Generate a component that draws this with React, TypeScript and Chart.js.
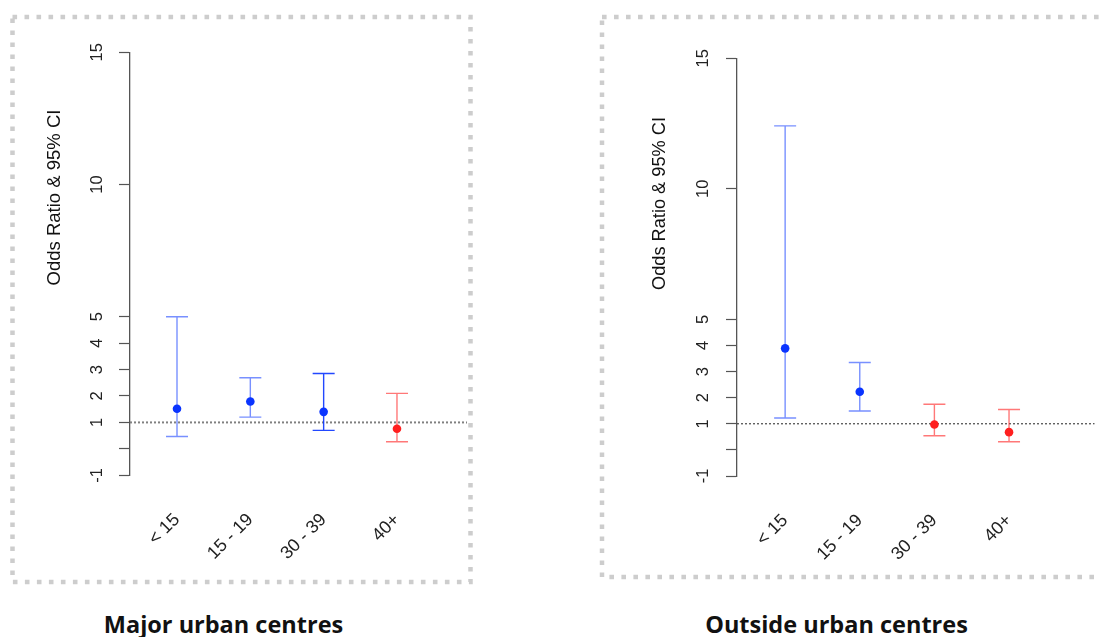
import React, { useEffect, useRef } from "react";
import { Chart, registerables } from "chart.js";

Chart.register(...registerables);

// ---------- data ----------
const categories = ["< 15", "15 - 19", "30 - 39", "40+"];
const yTickValues = [-1, 0, 1, 2, 3, 4, 5, 10, 15];
const hiddenTickLabels = [0];
const referenceOR = 1;

const majorOR = [1.52, 1.79, 1.4, 0.76];
const majorLower = [0.47, 1.2, 0.7, 0.27];
const majorUpper = [5.0, 2.69, 2.85, 2.1];

const outsideOR = [3.89, 2.23, 0.97, 0.68];
const outsideLower = [1.22, 1.49, 0.54, 0.31];
const outsideUpper = [12.41, 3.35, 1.75, 1.55];

// ---------- styles ----------
const BLUE = "#0a34ff";
const BLUE_LIGHT = "rgba(10,52,255,0.55)";
const RED = "#ff1f1f";
const RED_LIGHT = "rgba(255,30,30,0.6)";

const majorWhiskerColors = [BLUE_LIGHT, BLUE_LIGHT, "rgba(10,52,255,0.9)", RED_LIGHT];
const majorPointColors = [BLUE, BLUE, BLUE, RED];
const outsideWhiskerColors = [BLUE_LIGHT, BLUE_LIGHT, RED_LIGHT, RED_LIGHT];
const outsidePointColors = [BLUE, BLUE, RED, RED];

type PanelCfg = {
  title: string;
  est: number[];
  lo: number[];
  hi: number[];
  whiskerColors: string[];
  pointColors: string[];
  left: number;
  width: number;
  height: number;
  plotLeft: number;
  plotRight: number;
  plotTop: number;
  plotBottom: number;
  xMin: number;
  xMax: number;
  border: [number, number, number, number];
  yTitleX: number;
  yTitleY: number;
  yTitleSize: number;
  yTickPad: number;
  xTickPad: number;
  refColor: string;
  refWidth: number;
  titleCenter: number;
};

const panels: PanelCfg[] = [
  {
    title: "Major urban centres",
    est: majorOR,
    lo: majorLower,
    hi: majorUpper,
    whiskerColors: majorWhiskerColors,
    pointColors: majorPointColors,
    left: 0,
    width: 490,
    height: 600,
    plotLeft: 130,
    plotRight: 467,
    plotTop: 52.3,
    plotBottom: 475.3,
    xMin: 0.359,
    xMax: 4.955,
    border: [12.5, 17, 470.5, 582],
    yTitleX: 55,
    yTitleY: 197.5,
    yTitleSize: 18.5,
    yTickPad: 12,
    xTickPad: 26,
    refColor: "#808080",
    refWidth: 2,
    titleCenter: 223.5,
  },
  {
    title: "Outside urban centres",
    est: outsideOR,
    lo: outsideLower,
    hi: outsideUpper,
    whiskerColors: outsideWhiskerColors,
    pointColors: outsidePointColors,
    left: 590,
    width: 509,
    height: 600,
    plotLeft: 147,
    plotRight: 509,
    plotTop: 58.3,
    plotBottom: 476,
    xMin: 0.355,
    xMax: 5.148,
    border: [12, 17, 560, 577],
    yTitleX: 70,
    yTitleY: 203.5,
    yTitleSize: 18.2,
    yTickPad: 13.5,
    xTickPad: 26,
    refColor: "#222222",
    refWidth: 1,
    titleCenter: 836.5,
  },
];

const AXIS_FONT = "'Liberation Sans', Arial, sans-serif";

function Panel({ cfg }: { cfg: PanelCfg }) {
  const ref = useRef<HTMLCanvasElement | null>(null);

  useEffect(() => {
    const canvas = ref.current;
    if (!canvas) return;

    const borderPlugin = {
      id: "dashedBorder",
      beforeDraw(chart: any) {
        const ctx = chart.ctx;
        const [x0, y0, x1, y1] = cfg.border;
        ctx.save();
        ctx.setLineDash([4.6, 7.4]);
        ctx.lineWidth = 4.5;
        ctx.strokeStyle = "#cdcdcd";
        ctx.strokeRect(x0, y0, x1 - x0, y1 - y0);
        ctx.restore();
      },
    };

    const yTitlePlugin = {
      id: "yTitle",
      afterDraw(chart: any) {
        const ctx = chart.ctx;
        ctx.save();
        ctx.translate(cfg.yTitleX, cfg.yTitleY);
        ctx.rotate(-Math.PI / 2);
        ctx.font = `${cfg.yTitleSize}px ${AXIS_FONT}`;
        ctx.fillStyle = "#111";
        ctx.textAlign = "center";
        ctx.textBaseline = "middle";
        ctx.fillText("Odds Ratio & 95% CI", 0, 0);
        ctx.restore();
      },
    };

    const errorBarPlugin = {
      id: "errorBars",
      beforeDatasetDraw(chart: any, args: any) {
        if (args.index !== 0) return;
        const xs = chart.scales.x;
        const ys = chart.scales.y;
        const ctx = chart.ctx;
        ctx.save();
        ctx.lineWidth = 1.4;
        cfg.est.forEach((_, i) => {
          const px = xs.getPixelForValue(i + 1);
          const pLo = ys.getPixelForValue(cfg.lo[i]);
          const pHi = ys.getPixelForValue(cfg.hi[i]);
          const cap = 11;
          ctx.strokeStyle = cfg.whiskerColors[i];
          ctx.beginPath();
          ctx.moveTo(px, pLo);
          ctx.lineTo(px, pHi);
          ctx.moveTo(px - cap, pLo);
          ctx.lineTo(px + cap, pLo);
          ctx.moveTo(px - cap, pHi);
          ctx.lineTo(px + cap, pHi);
          ctx.stroke();
        });
        ctx.restore();
      },
    };

    const chart = new Chart(canvas, {
      type: "scatter",
      data: {
        datasets: [
          {
            type: "scatter",
            data: cfg.est.map((v, i) => ({ x: i + 1, y: v })),
            pointRadius: 4.3,
            pointHoverRadius: 4.3,
            pointBackgroundColor: cfg.pointColors,
            pointBorderColor: cfg.pointColors,
            pointBorderWidth: 0,
          },
          {
            type: "line",
            data: [
              { x: cfg.xMin, y: referenceOR },
              { x: cfg.xMax, y: referenceOR },
            ],
            borderColor: cfg.refColor,
            borderWidth: cfg.refWidth,
            borderDash: [2, 2],
            pointRadius: 0,
            fill: false,
          },
        ],
      } as any,
      options: {
        responsive: false,
        animation: false,
        events: [],
        layout: {
          padding: {
            left: 0,
            top: cfg.plotTop,
            right: cfg.width - cfg.plotRight,
            bottom: 0,
          },
        },
        plugins: {
          legend: { display: false },
          tooltip: { enabled: false },
          title: { display: false },
        },
        scales: {
          x: {
            type: "linear",
            min: cfg.xMin,
            max: cfg.xMax,
            offset: false,
            afterBuildTicks: (scale: any) => {
              scale.ticks = categories.map((_, i) => ({ value: i + 1 }));
            },
            afterFit: (scale: any) => {
              scale.height = cfg.height - cfg.plotBottom;
            },
            grid: { display: false },
            border: { display: false },
            ticks: {
              autoSkip: false,
              minRotation: 45,
              maxRotation: 45,
              padding: cfg.xTickPad,
              color: "#222",
              font: { family: AXIS_FONT, size: 18 },
              callback: (v: any) => categories[Math.round(Number(v)) - 1] ?? "",
            },
          },
          y: {
            type: "linear",
            min: -1,
            max: 15,
            afterBuildTicks: (scale: any) => {
              scale.ticks = yTickValues.map((v) => ({ value: v }));
            },
            afterFit: (scale: any) => {
              scale.width = cfg.plotLeft;
            },
            grid: {
              display: true,
              drawOnChartArea: false,
              drawTicks: true,
              tickLength: 11,
              tickWidth: 1.2,
              tickColor: "#555",
            },
            border: { display: true, color: "#555", width: 1.3 },
            ticks: {
              autoSkip: false,
              minRotation: 90,
              maxRotation: 90,
              crossAlign: "center",
              padding: cfg.yTickPad,
              color: "#222",
              font: { family: AXIS_FONT, size: 16.5 },
              callback: (v: any) =>
                hiddenTickLabels.includes(Number(v)) ? "" : String(v),
            },
          },
        },
      } as any,
      plugins: [borderPlugin, errorBarPlugin, yTitlePlugin],
    });

    return () => chart.destroy();
  }, [cfg]);

  return (
    <canvas
      ref={ref}
      width={cfg.width}
      height={cfg.height}
      style={{
        position: "absolute",
        left: cfg.left,
        top: 0,
        width: cfg.width,
        height: cfg.height,
      }}
    />
  );
}

export default function App() {
  return (
    <div
      style={{
        position: "fixed",
        left: 0,
        top: 0,
        width: 1099,
        height: 637,
        overflow: "hidden",
        background: "#fff",
      }}
    >
      {panels.map((p) => (
        <Panel key={p.title} cfg={p} />
      ))}
      {panels.map((p) => (
        <div
          key={p.title + "-t"}
          style={{
            position: "absolute",
            left: p.titleCenter - 200,
            width: 400,
            top: 613,
            textAlign: "center",
            fontFamily: "'Open Sans', 'Noto Sans', sans-serif",
            fontWeight: 700,
            fontSize: 23.5,
            lineHeight: "23.5px",
            color: "#111",
            whiteSpace: "nowrap",
          }}
        >
          {p.title}
        </div>
      ))}
    </div>
  );
}
